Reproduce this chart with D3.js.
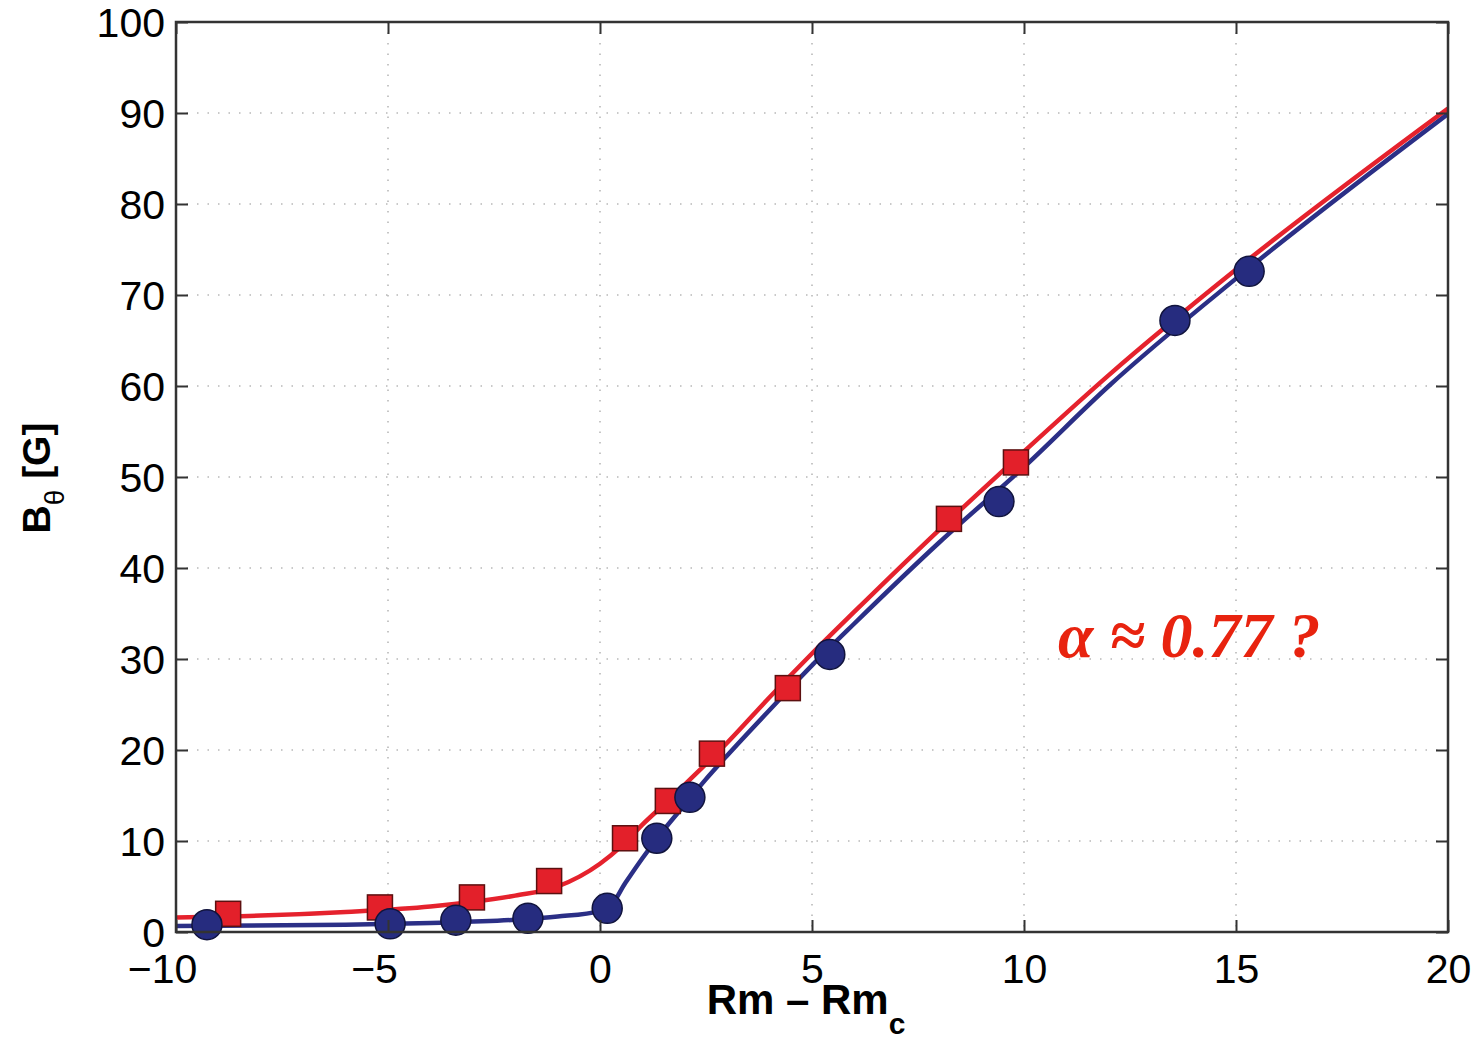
<!DOCTYPE html>
<html>
<head>
<meta charset="utf-8">
<script src="https://cdn.jsdelivr.net/npm/d3@7"></script>
<style>
  html, body { margin: 0; padding: 0; background: #fff; }
  svg { display: block; }
</style>
</head>
<body>
<script>
// ---- data ----
const xTicks = [-10, -5, 0, 5, 10, 15, 20];
const yTicks = [0, 10, 20, 30, 40, 50, 60, 70, 80, 90, 100];

// blue circles (measured)
const circleX = [-9.27, -4.95, -3.40, -1.70, 0.17, 1.34, 2.12, 5.42, 9.41, 13.56, 15.31];
const circleY = [0.8, 0.9, 1.3, 1.5, 2.6, 10.3, 14.8, 30.5, 47.3, 67.2, 72.6];

// red squares (measured)
const squareX = [-8.77, -5.19, -3.02, -1.20, 0.59, 1.60, 2.64, 4.43, 8.23, 9.81];
const squareY = [2.0, 2.7, 3.8, 5.6, 10.3, 14.4, 19.6, 26.8, 45.4, 51.6];

// fitted curves
const blueFitX = [-10, -6, -4, -2, -1, 0, 0.2, 0.6, 1, 1.4, 2, 2.5, 3, 4, 5, 6, 8, 10, 12, 15, 20];
const blueFitY = [0.65, 0.8, 1.0, 1.35, 1.7, 2.3, 2.6, 5.4, 8.1, 10.6, 14.0, 16.8, 19.4, 24.4, 29.3, 33.9, 42.8, 51.1, 60.0, 71.8, 89.9];

const redFitX = [-10, -8, -6, -4, -2, -1, 0, 0.5, 1, 1.6, 2, 3, 4, 5, 6, 8, 10, 12, 15, 20];
const redFitY = [1.6, 1.8, 2.2, 2.8, 4.0, 5.0, 7.5, 9.4, 11.8, 14.4, 16.2, 20.8, 25.8, 30.6, 35.2, 44.2, 52.8, 61.2, 72.8, 90.5];

const annotation = "α ≈ 0.77 ?";

// ---- layout ----
const W = 1482, H = 1045;
const plot = { left: 176, top: 22, right: 1448, bottom: 932 };

const svg = d3.select("body").append("svg").attr("width", W).attr("height", H);
svg.append("rect").attr("width", W).attr("height", H).attr("fill", "#fff");

const x = d3.scaleLinear().domain([-10, 20]).range([plot.left, plot.right]);
const y = d3.scaleLinear().domain([0, 100]).range([plot.bottom, plot.top]);

const fmt = d => (d < 0 ? "\u2212" + Math.abs(d) : String(d));

// grid (dotted)
const grid = svg.append("g").attr("stroke", "#b8b8b8").attr("stroke-width", 1.6)
  .attr("stroke-dasharray", "1.5,9");
grid.selectAll(".gx").data(xTicks.slice(1, -1)).join("line")
  .attr("x1", d => x(d)).attr("x2", d => x(d))
  .attr("y1", plot.top).attr("y2", plot.bottom);
grid.selectAll(".gy").data(yTicks.slice(1, -1)).join("line")
  .attr("y1", d => y(d)).attr("y2", d => y(d))
  .attr("x1", plot.left).attr("x2", plot.right);

// clip
svg.append("clipPath").attr("id", "clip").append("rect")
  .attr("x", plot.left).attr("y", plot.top)
  .attr("width", plot.right - plot.left).attr("height", plot.bottom - plot.top);

const lineGen = d3.line().x(d => x(d[0])).y(d => y(d[1])).curve(d3.curveMonotoneX);
const blueFit = blueFitX.map((v, i) => [v, blueFitY[i]]);
const redFit = redFitX.map((v, i) => [v, redFitY[i]]);

const marks = svg.append("g").attr("clip-path", "url(#clip)");
marks.append("path").datum(blueFit).attr("d", lineGen)
  .attr("fill", "none").attr("stroke", "#2b2f86").attr("stroke-width", 4.5);
marks.append("path").datum(redFit).attr("d", lineGen)
  .attr("fill", "none").attr("stroke", "#e5222d").attr("stroke-width", 4.5);

// points
const circles = circleX.map((v, i) => [v, circleY[i]]);
const squares = squareX.map((v, i) => [v, squareY[i]]);
const sq = 25;
svg.append("g").selectAll("rect").data(squares).join("rect")
  .attr("x", d => x(d[0]) - sq / 2).attr("y", d => y(d[1]) - sq / 2)
  .attr("width", sq).attr("height", sq)
  .attr("fill", "#e3202a").attr("stroke", "#5c1010").attr("stroke-width", 1.5);
svg.append("g").selectAll("circle").data(circles).join("circle")
  .attr("cx", d => x(d[0])).attr("cy", d => y(d[1])).attr("r", 15)
  .attr("fill", "#262c7f").attr("stroke", "#11143d").attr("stroke-width", 1.5);

// axes with inward ticks on all four sides
const tickLen = 12;
const axB = svg.append("g").attr("transform", `translate(0,${plot.bottom})`)
  .call(d3.axisBottom(x).tickValues(xTicks).tickSize(-tickLen).tickPadding(22).tickFormat(fmt));
const axT = svg.append("g").attr("transform", `translate(0,${plot.top})`)
  .call(d3.axisTop(x).tickValues(xTicks).tickSize(-tickLen).tickFormat(""));
const axL = svg.append("g").attr("transform", `translate(${plot.left},0)`)
  .call(d3.axisLeft(y).tickValues(yTicks).tickSize(-tickLen).tickPadding(11).tickFormat(fmt));
const axR = svg.append("g").attr("transform", `translate(${plot.right},0)`)
  .call(d3.axisRight(y).tickValues(yTicks).tickSize(-tickLen).tickFormat(""));

[axB, axT, axL, axR].forEach(a => {
  a.select(".domain").remove();
  a.selectAll(".tick line").attr("stroke", "#333").attr("stroke-width", 2);
  a.selectAll("text").attr("fill", "#000")
    .style("font-family", "'Liberation Sans', Arial, Helvetica, sans-serif")
    .style("font-size", "41px");
});
axB.selectAll(".tick text").attr("dx", d => (d < 0 ? -14 : 0));
axL.selectAll(".tick text").attr("dy", "0.36em");

// frame
svg.append("rect").attr("x", plot.left).attr("y", plot.top)
  .attr("width", plot.right - plot.left).attr("height", plot.bottom - plot.top)
  .attr("fill", "none").attr("stroke", "#333").attr("stroke-width", 2.5);

// axis titles
const xt = svg.append("text").attr("x", 806).attr("y", 1014)
  .attr("text-anchor", "middle")
  .style("font-family", "'Liberation Sans', Arial, Helvetica, sans-serif")
  .style("font-weight", "bold").style("font-size", "42px");
xt.append("tspan").text("Rm \u2013 Rm");
xt.append("tspan").attr("dy", 20).style("font-size", "30px").text("c");

const yt = svg.append("text")
  .attr("transform", `translate(50,478) rotate(-90)`)
  .attr("text-anchor", "middle")
  .style("font-family", "'Liberation Sans', Arial, Helvetica, sans-serif")
  .style("font-weight", "bold").style("font-size", "39px");
yt.append("tspan").text("B");
yt.append("tspan").attr("dy", 14).style("font-size", "28px").style("font-weight", "normal").text("\u03B8");
yt.append("tspan").attr("dy", -14).text(" [G]");

// annotation
svg.append("text").attr("x", 1058).attr("y", 657)
  .style("font-family", "'Liberation Serif', 'Times New Roman', serif")
  .style("font-weight", "bold").style("font-style", "italic")
  .style("font-size", "64px").attr("fill", "#e8230f")
  .text(annotation);
</script>
</body>
</html>
